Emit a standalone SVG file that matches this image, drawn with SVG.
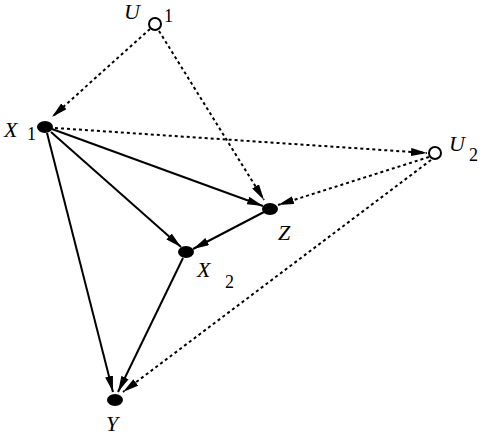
<svg xmlns="http://www.w3.org/2000/svg" width="484" height="436" viewBox="0 0 484 436">
<style>
.s{stroke:#000;stroke-width:2;fill:none}
.d{stroke:#000;stroke-width:2;fill:none;stroke-dasharray:3 3}
.v{font-family:"Liberation Serif",serif;font-style:italic;font-size:22px;fill:#000}
.n{font-family:"Liberation Serif",serif;font-size:18px;fill:#000}
</style>
<defs>
<marker id="a" viewBox="0 0 16 8" refX="16" refY="4" markerWidth="16" markerHeight="8" markerUnits="userSpaceOnUse" orient="auto">
<path d="M0,0 L16,4 L0,8 Z" fill="#000"/>
</marker>
</defs>
<rect width="484" height="436" fill="#fff"/>
<g id="connectors">
<line class="d" x1="150" y1="29" x2="52" y2="117" marker-end="url(#a)"/>
<line class="d" x1="159" y1="31" x2="264" y2="200" marker-end="url(#a)"/>
<line class="d" x1="55" y1="128" x2="427" y2="153" marker-end="url(#a)"/>
<line class="d" x1="429" y1="157" x2="278" y2="205" marker-end="url(#a)"/>
<line class="d" x1="431" y1="160" x2="123" y2="392" marker-end="url(#a)"/>
<line class="s" x1="52" y1="129" x2="263" y2="206" marker-end="url(#a)"/>
<line class="s" x1="51" y1="132" x2="181" y2="247" marker-end="url(#a)"/>
<line class="s" x1="47" y1="133" x2="113" y2="392" marker-end="url(#a)"/>
<line class="s" x1="264" y1="212" x2="193" y2="249" marker-end="url(#a)"/>
<line class="s" x1="183" y1="258" x2="118" y2="392" marker-end="url(#a)"/>
</g>
<g id="U1">
<circle cx="155" cy="24" r="6" fill="#fff" stroke="#000" stroke-width="2"/>
<text class="v" x="124" y="19">U</text><text class="n" x="164" y="22">1</text>
</g>
<g id="X1">
<ellipse cx="45" cy="127" rx="8" ry="6" fill="#000"/>
<text class="v" x="4" y="137">X</text><text class="n" x="27" y="140">1</text>
</g>
<g id="U2">
<circle cx="435" cy="153" r="6" fill="#fff" stroke="#000" stroke-width="2"/>
<text class="v" x="449" y="151">U</text><text class="n" x="469" y="161">2</text>
</g>
<g id="Z">
<ellipse cx="270" cy="209" rx="8" ry="6" fill="#000"/>
<text class="v" x="278" y="240">Z</text>
</g>
<g id="X2">
<ellipse cx="186" cy="252" rx="8" ry="6" fill="#000"/>
<text class="v" x="197" y="277">X</text><text class="n" x="225" y="288">2</text>
</g>
<g id="Y">
<ellipse cx="115" cy="400" rx="8" ry="6" fill="#000"/>
<text class="v" x="106" y="431">Y</text>
</g>
</svg>
